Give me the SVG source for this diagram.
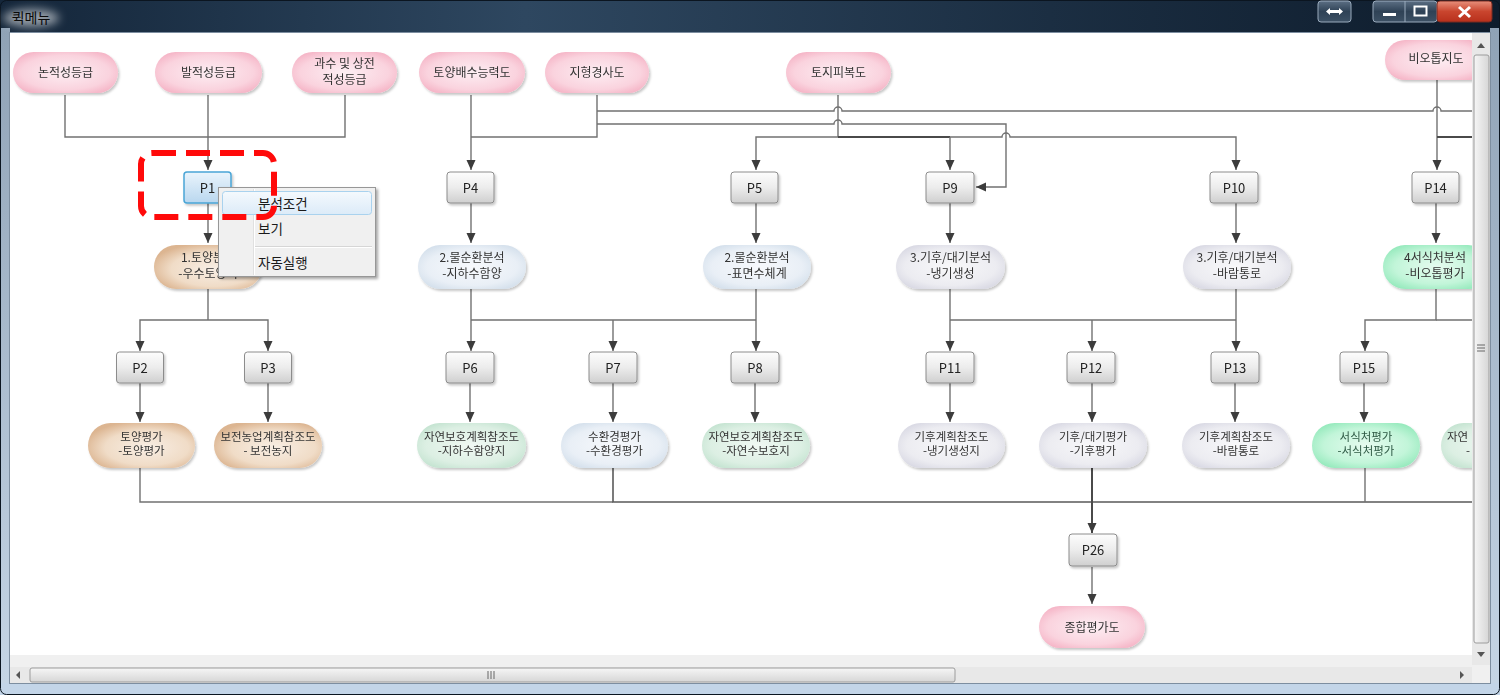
<svg xmlns="http://www.w3.org/2000/svg" width="1500" height="695" viewBox="0 0 1500 695">
<style>
text{font-family:"Noto Sans CJK KR","Noto Sans",sans-serif;fill:#333;text-anchor:middle}
.t12{font-size:12px}
.t11{font-size:11.5px}
.pl{font-size:13px;fill:#222}
.ln{fill:none;stroke:#717171;stroke-width:1.4}
.lnd{fill:none;stroke:#4a4a4a;stroke-width:2}
.pb{fill:url(#gBox);stroke:#8c8c8c;stroke-width:1}
.pink{fill:url(#gPink)}
.brown{fill:url(#gBrown)}
.blue{fill:url(#gBlue)}
.mint{fill:url(#gMint)}
.lav{fill:url(#gLav)}
.green{fill:url(#gGreen)}
.menu{font-size:13.5px;text-anchor:start;fill:#1a1a1a}
</style>
<defs>
<linearGradient id="gTitle" x1="0" y1="0" x2="1" y2="0">
<stop offset="0" stop-color="#14263a"/><stop offset="0.35" stop-color="#2e4760"/><stop offset="0.7" stop-color="#1b2e42"/><stop offset="1" stop-color="#0e1c2c"/>
</linearGradient>
<linearGradient id="gBox" x1="0" y1="0" x2="0" y2="1">
<stop offset="0" stop-color="#fdfdfd"/><stop offset="0.5" stop-color="#ececec"/><stop offset="1" stop-color="#cfcfcf"/>
</linearGradient>
<linearGradient id="gBoxSel" x1="0" y1="0" x2="0" y2="1">
<stop offset="0" stop-color="#eaf4fc"/><stop offset="1" stop-color="#b9d7ef"/>
</linearGradient>
<radialGradient id="gPink" cx="0.5" cy="0.5" r="0.6"><stop offset="0" stop-color="#fdeef3"/><stop offset="0.7" stop-color="#fad3de"/><stop offset="1" stop-color="#f5b4c6"/></radialGradient>
<radialGradient id="gBrown" cx="0.55" cy="0.55" r="0.6"><stop offset="0" stop-color="#f8eee4"/><stop offset="0.65" stop-color="#f0dcc7"/><stop offset="1" stop-color="#dcb591"/></radialGradient>
<radialGradient id="gBlue" cx="0.5" cy="0.5" r="0.6"><stop offset="0" stop-color="#f7f9fc"/><stop offset="0.7" stop-color="#e9eff6"/><stop offset="1" stop-color="#d3dfeb"/></radialGradient>
<radialGradient id="gMint" cx="0.5" cy="0.5" r="0.6"><stop offset="0" stop-color="#f0f8f3"/><stop offset="0.7" stop-color="#dcefe3"/><stop offset="1" stop-color="#c3e3d0"/></radialGradient>
<radialGradient id="gLav" cx="0.5" cy="0.5" r="0.6"><stop offset="0" stop-color="#f8f8fa"/><stop offset="0.7" stop-color="#ececf1"/><stop offset="1" stop-color="#d8d8e3"/></radialGradient>
<radialGradient id="gGreen" cx="0.5" cy="0.5" r="0.6"><stop offset="0" stop-color="#e6fbef"/><stop offset="0.65" stop-color="#c2f5d9"/><stop offset="1" stop-color="#93e9bb"/></radialGradient>
<linearGradient id="gThumbH" x1="0" y1="0" x2="0" y2="1"><stop offset="0" stop-color="#f6f6f6"/><stop offset="1" stop-color="#d6d6d6"/></linearGradient>
<linearGradient id="gThumbV" x1="0" y1="0" x2="1" y2="0"><stop offset="0" stop-color="#f6f6f6"/><stop offset="1" stop-color="#d6d6d6"/></linearGradient>
<linearGradient id="gClose" x1="0" y1="0" x2="0" y2="1"><stop offset="0" stop-color="#e8907c"/><stop offset="0.5" stop-color="#c9452e"/><stop offset="1" stop-color="#b8301c"/></linearGradient>
<linearGradient id="gBtn" x1="0" y1="0" x2="0" y2="1"><stop offset="0" stop-color="#5c6f84"/><stop offset="0.5" stop-color="#2f4256"/><stop offset="1" stop-color="#3c5064"/></linearGradient>
<linearGradient id="gMenuSel" x1="0" y1="0" x2="0" y2="1"><stop offset="0" stop-color="#f4f9fd"/><stop offset="1" stop-color="#dcebf8"/></linearGradient>
<linearGradient id="gFrame" x1="0" y1="0" x2="0" y2="1"><stop offset="0" stop-color="#8fa2b6"/><stop offset="1" stop-color="#c6d6e6"/></linearGradient>
<filter id="sh" x="-10%" y="-20%" width="125%" height="150%"><feDropShadow dx="1.5" dy="2" stdDeviation="1.2" flood-color="#000" flood-opacity="0.22"/></filter>
<filter id="shm" x="-10%" y="-10%" width="125%" height="130%"><feDropShadow dx="2" dy="2" stdDeviation="1.5" flood-color="#000" flood-opacity="0.35"/></filter>
<filter id="glow" x="-30%" y="-60%" width="160%" height="220%"><feGaussianBlur stdDeviation="5"/></filter>
<marker id="arr" viewBox="0 0 10 10" refX="10" refY="5" markerWidth="10" markerHeight="10" markerUnits="userSpaceOnUse" orient="auto">
<path d="M0,0.5 L10,5 L0,9.5 z" fill="#3c3c3c"/>
</marker>
<clipPath id="cArea"><rect x="10" y="33" width="1462" height="622"/></clipPath>
</defs>

<!-- window frame -->
<g id="window">
<rect x="0" y="0" width="1500" height="695" fill="#1c2d3f"/>
<rect x="0" y="0" width="1500" height="33" fill="url(#gTitle)"/>
<rect x="0" y="28" width="10" height="667" fill="url(#gFrame)"/>
<rect x="1490" y="28" width="10" height="667" fill="url(#gFrame)"/>
<rect x="0" y="683" width="1500" height="12" fill="#c3d5e8"/>
<rect x="0.5" y="0.5" width="1499" height="694" fill="none" stroke="#0b1520" stroke-width="1" rx="6"/>
<ellipse cx="31" cy="18" rx="28" ry="9" fill="#ffffff" opacity="0.55" filter="url(#glow)"/>
<text x="31" y="23" style="font-size:14px;fill:#0a0a0a">퀵메뉴</text>
<rect x="1318" y="1" width="33" height="21" rx="3" fill="url(#gBtn)" stroke="#9aabbd"/>
<path d="M1326 11.5 L1330 8 V10 H1339 V8 L1343 11.5 L1339 15 V13 H1330 V15 Z" fill="#ffffff"/>
<rect x="1373" y="1" width="64" height="21" rx="3" fill="url(#gBtn)" stroke="#9aabbd"/>
<line x1="1405" y1="1" x2="1405" y2="22" stroke="#9aabbd"/>
<rect x="1383" y="13" width="13" height="3" fill="#ffffff"/>
<rect x="1414.5" y="6.5" width="12" height="9" fill="none" stroke="#ffffff" stroke-width="2"/>
<rect x="1437" y="1" width="55" height="21" rx="3" fill="url(#gClose)" stroke="#7a2a20"/>
<path d="M1459 7 L1470 17 M1470 7 L1459 17" stroke="#ffffff" stroke-width="3"/>
<rect x="10" y="33" width="1480" height="650" fill="#f0f0f0"/>
<rect x="10" y="33" width="1462" height="622" fill="#ffffff"/>
<rect x="9.5" y="32.5" width="1481" height="651" fill="none" stroke="#7d8ea0"/>
<!-- horizontal scrollbar -->
<rect x="10" y="667" width="1462" height="16" fill="#e8e8e8"/>
<path d="M20 671 L16 675 L20 679 Z" fill="#555"/>
<rect x="30" y="668" width="925" height="14" rx="2" fill="url(#gThumbH)" stroke="#9c9c9c"/>
<path d="M488 671 V679 M491 671 V679 M494 671 V679" stroke="#666" stroke-width="1"/>
<path d="M1460 671 L1464 675 L1460 679 Z" fill="#555"/>
<!-- vertical scrollbar -->
<rect x="1472" y="33" width="18" height="632" fill="#e8e8e8"/>
<path d="M1477 48 L1481 43 L1485 48 Z" fill="#555"/>
<rect x="1474" y="55" width="15" height="588" rx="2" fill="url(#gThumbV)" stroke="#9c9c9c"/>
<path d="M1477 345 H1485 M1477 348 H1485 M1477 351 H1485" stroke="#666"/>
<path d="M1477 652 L1481 657 L1485 652 Z" fill="#555"/>
</g>

<g clip-path="url(#cArea)">
<!-- connectors -->
<g id="connectors">
<path class="ln" d="M65 95 V137 H345 V95"/>
<path class="ln" d="M208 95 V170" marker-end="url(#arr)"/>
<path class="ln" d="M471 95 V170" marker-end="url(#arr)"/>
<path class="ln" d="M597 95 V137 H471"/>
<path class="ln" d="M597 111 H834 A4 4 0 0 1 842 111 H1433 A4 4 0 0 1 1441 111 H1480"/>
<path class="ln" d="M597 124 H834 A4 4 0 0 1 842 124 H1006 V187 H976" marker-end="url(#arr)"/>
<path class="ln" d="M838 95 V137"/>
<path class="ln" d="M838 137 H756 V170" marker-end="url(#arr)"/>
<path class="lnd" d="M838 137 H950"/>
<path class="ln" d="M950 137 V170" marker-end="url(#arr)"/>
<path class="ln" d="M950 137 H1002 A4 4 0 0 1 1010 137 H1236 V170" marker-end="url(#arr)"/>
<path class="ln" d="M1437 80 V170" marker-end="url(#arr)"/>
<path class="lnd" d="M1437 137 H1480"/>
<!-- P row1 to pills -->
<path class="ln" d="M208 203 V243" marker-end="url(#arr)"/>
<path class="ln" d="M471 203 V243" marker-end="url(#arr)"/>
<path class="ln" d="M756 203 V243" marker-end="url(#arr)"/>
<path class="ln" d="M950 203 V243" marker-end="url(#arr)"/>
<path class="ln" d="M1236 203 V243" marker-end="url(#arr)"/>
<path class="ln" d="M1436 203 V243" marker-end="url(#arr)"/>
<!-- pills to P row2 -->
<path class="ln" d="M208 289 V320"/>
<path class="ln" d="M208 320 H140 V351" marker-end="url(#arr)"/>
<path class="ln" d="M208 320 H268 V351" marker-end="url(#arr)"/>
<path class="ln" d="M471 289 V351" marker-end="url(#arr)"/>
<path class="ln" d="M756 289 V351" marker-end="url(#arr)"/>
<path class="ln" d="M471 320 H756"/>
<path class="ln" d="M613 320 V351" marker-end="url(#arr)"/>
<path class="ln" d="M950 289 V351" marker-end="url(#arr)"/>
<path class="ln" d="M1236 289 V351" marker-end="url(#arr)"/>
<path class="ln" d="M950 320 H1236"/>
<path class="ln" d="M1092 320 V351" marker-end="url(#arr)"/>
<path class="ln" d="M1436 289 V320 H1365 V351" marker-end="url(#arr)"/>
<path class="ln" d="M1436 320 H1480"/>
<!-- P row2 to pills -->
<path class="ln" d="M140 383 V422" marker-end="url(#arr)"/>
<path class="ln" d="M268 383 V422" marker-end="url(#arr)"/>
<path class="ln" d="M470 383 V422" marker-end="url(#arr)"/>
<path class="ln" d="M613 383 V422" marker-end="url(#arr)"/>
<path class="ln" d="M755 383 V422" marker-end="url(#arr)"/>
<path class="ln" d="M950 383 V422" marker-end="url(#arr)"/>
<path class="ln" d="M1092 383 V422" marker-end="url(#arr)"/>
<path class="ln" d="M1235 383 V422" marker-end="url(#arr)"/>
<path class="ln" d="M1364 383 V422" marker-end="url(#arr)"/>
<!-- bottom bus -->
<path class="ln" d="M140 468 V502 H613"/>
<path class="lnd" d="M613 468 V502 H1480" style="stroke-width:1.6;stroke:#5a5a5a"/>
<path class="ln" d="M1365 468 V502"/>
<path class="lnd" d="M1092 468 V533" marker-end="url(#arr)"/>
<path class="ln" d="M1092 567 V604" marker-end="url(#arr)"/>
</g>

<!-- top row inputs -->
<g id="n-nonjeok" filter="url(#sh)"><rect class="pink" x="13" y="52" width="105" height="41" rx="20.5"/><text class="t12" x="65.5" y="77">논적성등급</text></g>
<g id="n-batjeok" filter="url(#sh)"><rect class="pink" x="155" y="52" width="107" height="41" rx="20.5"/><text class="t12" x="208.5" y="77">발적성등급</text></g>
<g id="n-gwasu" filter="url(#sh)"><rect class="pink" x="292" y="52" width="105" height="41" rx="20.5"/><text class="t12" x="344.5" y="68">과수 및 상전</text><text class="t12" x="344.5" y="84">적성등급</text></g>
<g id="n-baesu" filter="url(#sh)"><rect class="pink" x="419" y="52" width="106" height="41" rx="20.5"/><text class="t12" x="472" y="77">토양배수능력도</text></g>
<g id="n-gyeongsa" filter="url(#sh)"><rect class="pink" x="545" y="52" width="104" height="41" rx="20.5"/><text class="t12" x="597" y="77">지형경사도</text></g>
<g id="n-pibok" filter="url(#sh)"><rect class="pink" x="786" y="52" width="105" height="41" rx="20.5"/><text class="t12" x="838.5" y="77">토지피복도</text></g>
<g id="n-biotop" filter="url(#sh)"><rect class="pink" x="1385" y="40" width="104" height="40" rx="20"/><text class="t12" x="1436" y="63">비오톱지도</text></g>

<!-- P boxes -->
<g id="p1" filter="url(#sh)"><rect x="184" y="172" width="47" height="31" rx="3" fill="url(#gBoxSel)" stroke="#4aa5d6" stroke-width="1.5"/><text class="pl" x="207.5" y="192.5">P1</text></g>
<g id="p2" filter="url(#sh)"><rect class="pb" x="116.5" y="352" width="47" height="31" rx="3"/><text class="pl" x="140" y="372.5">P2</text></g>
<g id="p3" filter="url(#sh)"><rect class="pb" x="244.5" y="352" width="47" height="31" rx="3"/><text class="pl" x="268" y="372.5">P3</text></g>
<g id="p4" filter="url(#sh)"><rect class="pb" x="447" y="172" width="47" height="31" rx="3"/><text class="pl" x="470.5" y="192.5">P4</text></g>
<g id="p5" filter="url(#sh)"><rect class="pb" x="731" y="172" width="47" height="31" rx="3"/><text class="pl" x="754.5" y="192.5">P5</text></g>
<g id="p6" filter="url(#sh)"><rect class="pb" x="446" y="352" width="48" height="31" rx="3"/><text class="pl" x="470" y="372.5">P6</text></g>
<g id="p7" filter="url(#sh)"><rect class="pb" x="589" y="352" width="48" height="31" rx="3"/><text class="pl" x="613" y="372.5">P7</text></g>
<g id="p8" filter="url(#sh)"><rect class="pb" x="731" y="352" width="48" height="31" rx="3"/><text class="pl" x="755" y="372.5">P8</text></g>
<g id="p9" filter="url(#sh)"><rect class="pb" x="926" y="172" width="48" height="31" rx="3"/><text class="pl" x="950" y="192.5">P9</text></g>
<g id="p10" filter="url(#sh)"><rect class="pb" x="1210" y="172" width="48" height="31" rx="3"/><text class="pl" x="1234" y="192.5">P10</text></g>
<g id="p11" filter="url(#sh)"><rect class="pb" x="926" y="352" width="48" height="31" rx="3"/><text class="pl" x="950" y="372.5">P11</text></g>
<g id="p12" filter="url(#sh)"><rect class="pb" x="1067" y="352" width="48" height="31" rx="3"/><text class="pl" x="1091" y="372.5">P12</text></g>
<g id="p13" filter="url(#sh)"><rect class="pb" x="1211" y="352" width="48" height="31" rx="3"/><text class="pl" x="1235" y="372.5">P13</text></g>
<g id="p14" filter="url(#sh)"><rect class="pb" x="1412" y="172" width="47" height="31" rx="3"/><text class="pl" x="1435.5" y="192.5">P14</text></g>
<g id="p15" filter="url(#sh)"><rect class="pb" x="1340" y="352" width="48" height="31" rx="3"/><text class="pl" x="1364" y="372.5">P15</text></g>
<g id="p26" filter="url(#sh)"><rect class="pb" x="1069" y="534" width="48" height="32" rx="3"/><text class="pl" x="1093" y="555">P26</text></g>

<!-- analysis pills (row 2) -->
<g id="a-soil" filter="url(#sh)"><rect class="brown" x="154" y="245" width="108" height="44" rx="22"/><text class="t12" x="208" y="262">1.토양분석</text><text class="t12" x="208" y="278">-우수토양지</text></g>
<g id="a-water1" filter="url(#sh)"><rect class="blue" x="418" y="245" width="108" height="44" rx="22"/><text class="t12" x="472" y="262">2.물순환분석</text><text class="t12" x="472" y="278">-지하수함양</text></g>
<g id="a-water2" filter="url(#sh)"><rect class="blue" x="703" y="245" width="108" height="44" rx="22"/><text class="t12" x="757" y="262">2.물순환분석</text><text class="t12" x="757" y="278">-표면수체계</text></g>
<g id="a-climate1" filter="url(#sh)"><rect class="lav" x="896" y="245" width="109" height="44" rx="22"/><text class="t12" x="950.5" y="262">3.기후/대기분석</text><text class="t12" x="950.5" y="278">-냉기생성</text></g>
<g id="a-climate2" filter="url(#sh)"><rect class="lav" x="1183" y="245" width="108" height="44" rx="22"/><text class="t12" x="1237" y="262">3.기후/대기분석</text><text class="t12" x="1237" y="278">-바람통로</text></g>
<g id="a-habitat" filter="url(#sh)"><rect class="green" x="1383" y="245" width="107" height="44" rx="22"/><text class="t12" x="1435" y="262">4서식처분석</text><text class="t12" x="1435" y="278">-비오톱평가</text></g>

<!-- result pills (row 3) -->
<g id="r-soil" filter="url(#sh)"><rect class="brown" x="88" y="423" width="107" height="45" rx="22.5"/><text class="t11" x="141.5" y="441">토양평가</text><text class="t11" x="141.5" y="455">-토양평가</text></g>
<g id="r-farm" filter="url(#sh)"><rect class="brown" x="214" y="423" width="108" height="45" rx="22.5"/><text class="t11" x="268" y="441">보전농업계획참조도</text><text class="t11" x="268" y="455">- 보전농지</text></g>
<g id="r-nature1" filter="url(#sh)"><rect class="mint" x="417" y="423" width="109" height="45" rx="22.5"/><text class="t11" x="471.5" y="441">자연보호계획참조도</text><text class="t11" x="471.5" y="455">-지하수함양지</text></g>
<g id="r-water" filter="url(#sh)"><rect class="blue" x="561" y="423" width="107" height="45" rx="22.5"/><text class="t11" x="614.5" y="441">수환경평가</text><text class="t11" x="614.5" y="455">-수환경평가</text></g>
<g id="r-nature2" filter="url(#sh)"><rect class="mint" x="702" y="423" width="108" height="45" rx="22.5"/><text class="t11" x="756" y="441">자연보호계획참조도</text><text class="t11" x="756" y="455">-자연수보호지</text></g>
<g id="r-climate1" filter="url(#sh)"><rect class="lav" x="898" y="423" width="107" height="45" rx="22.5"/><text class="t11" x="951.5" y="441">기후계획참조도</text><text class="t11" x="951.5" y="455">-냉기생성지</text></g>
<g id="r-climate2" filter="url(#sh)"><rect class="lav" x="1039" y="423" width="108" height="45" rx="22.5"/><text class="t11" x="1093" y="441">기후/대기평가</text><text class="t11" x="1093" y="455">-기후평가</text></g>
<g id="r-climate3" filter="url(#sh)"><rect class="lav" x="1182" y="423" width="108" height="45" rx="22.5"/><text class="t11" x="1236" y="441">기후계획참조도</text><text class="t11" x="1236" y="455">-바람통로</text></g>
<g id="r-habitat" filter="url(#sh)"><rect class="green" x="1312" y="423" width="108" height="45" rx="22.5"/><text class="t11" x="1366" y="441" style="fill:#2f5a45">서식처평가</text><text class="t11" x="1366" y="455" style="fill:#2f5a45">-서식처평가</text></g>
<g id="r-nature3" filter="url(#sh)"><rect class="mint" x="1441" y="423" width="108" height="45" rx="22.5"/><text class="t11" x="1447" y="441" style="text-anchor:start">자연</text><text class="t11" x="1466" y="455" style="text-anchor:start">-</text></g>

<g id="n-total" filter="url(#sh)"><rect class="pink" x="1039" y="606" width="106" height="42" rx="21"/><text class="t12" x="1092" y="632">종합평가도</text></g>
</g>

<!-- context menu -->
<g id="context-menu">
<rect x="218.5" y="187.5" width="157" height="89" fill="#f0f0f0" stroke="#979797" filter="url(#shm)"/>
<line x1="253.5" y1="189" x2="253.5" y2="275" stroke="#e0e0e0"/>
<line x1="254.5" y1="189" x2="254.5" y2="275" stroke="#ffffff"/>
<rect x="222.5" y="191.5" width="149" height="23" rx="3" fill="url(#gMenuSel)" stroke="#a9d2ee"/>
<text class="menu" x="258" y="208.5">분석조건</text>
<text class="menu" x="258" y="233.5">보기</text>
<line x1="255" y1="246.5" x2="372" y2="246.5" stroke="#d6d6d6"/>
<line x1="255" y1="247.5" x2="372" y2="247.5" stroke="#ffffff"/>
<text class="menu" x="258" y="268">자동실행</text>
</g>

<!-- red dashed highlight -->
<g id="highlight">
<rect x="141" y="153" width="133" height="64" rx="11" fill="none" stroke="#ff0a0a" stroke-width="6" stroke-dasharray="24 10"/>
</g>
</svg>
